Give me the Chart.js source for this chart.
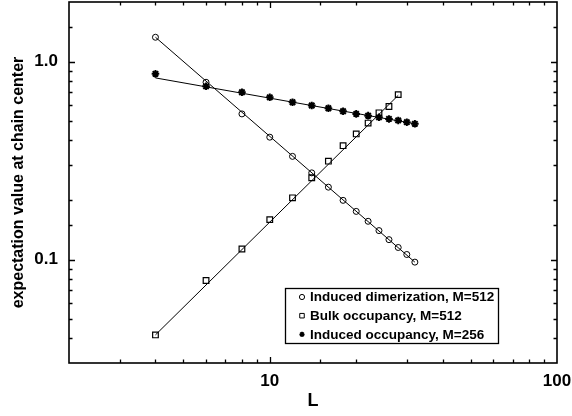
<!DOCTYPE html>
<html>
<head>
<meta charset="utf-8">
<script src="https://cdn.jsdelivr.net/npm/chart.js@4/dist/chart.umd.min.js"></script>
<style>
html,body{margin:0;padding:0;background:#fff;}
#wrap{width:572px;height:416px;position:relative;}
</style>
</head>
<body>
<div id="wrap"><canvas id="c" width="572" height="416"></canvas></div>
<script>
// ---- data ----
const L_dimer = [4, 6, 8, 10, 12, 14, 16, 18, 20, 22, 24, 26, 28, 30, 32];
const dimer   = [1.327, 0.786, 0.544, 0.415, 0.332, 0.274, 0.232, 0.199, 0.175, 0.156, 0.140, 0.126, 0.115, 0.106, 0.097];

const L_bulk = [4, 6, 8, 10, 12, 14, 16, 18, 20, 22, 24, 26, 28];
const bulk   = [0.0416, 0.0783, 0.113, 0.159, 0.205, 0.259, 0.314, 0.376, 0.431, 0.489, 0.551, 0.593, 0.681];

const L_occ = [4, 6, 8, 10, 12, 14, 16, 18, 20, 22, 24, 26, 28, 30, 32];
const occ   = [0.867, 0.75, 0.70, 0.66, 0.623, 0.60, 0.581, 0.561, 0.544, 0.533, 0.523, 0.513, 0.504, 0.494, 0.485];

// fitted power-law lines (end points)
const fitDimerL = [4, 32],  fitDimer = [1.327, 0.097];
const fitBulkL  = [4, 28],  fitBulk  = [0.0416, 0.675];
const fitOccL   = [4, 32],  fitOcc   = [0.827, 0.485];

const seriesLabels = ['Induced dimerization, M=512', 'Bulk occupancy, M=512', 'Induced occupancy, M=256'];
const xTickLabels = [10, 100];
const yTickLabels = [0.1, 1];
const xTitle = 'L';
const yTitle = 'expectation value at chain center';

const pts = (xs, ys) => xs.map((x, i) => ({x: x, y: ys[i]}));
const FONT = "'Liberation Sans', Arial, Helvetica, sans-serif";

const near = (a, b) => Math.abs(a - b) < 1e-6 * Math.max(1, Math.abs(b));

const lineDs = (xs, ys) => ({
  data: pts(xs, ys), showLine: true, borderColor: '#000', borderWidth: 1,
  pointRadius: 0, pointHoverRadius: 0, fill: false, isFit: true
});

// pin the top of the plot frame
const pinTop = {
  id: 'pinTop',
  afterLayout(chart) {
    const T = 2;
    const ys = chart.scales.y, ca = chart.chartArea;
    ys.top = T; ys.height = ys.bottom - T; ys.configure();
    ca.top = T; ca.height = ca.bottom - T;
  }
};

const frameTicks = {
  id: 'frameTicks',
  afterDatasetsDraw(chart) {
    const ctx = chart.ctx, a = chart.chartArea;
    const xs = chart.scales.x, ys = chart.scales.y;
    ctx.save();
    ctx.strokeStyle = '#000';
    ctx.lineWidth = 1.3;
    ctx.beginPath();
    xs.ticks.forEach(t => {
      const v = t.value;
      const major = near(Math.log10(v), Math.round(Math.log10(v)));
      const len = major ? 6 : 3.5;
      const px = Math.round(xs.getPixelForValue(v)) + 0.5;
      if (px < a.left + 1 || px > a.right - 1) return;
      ctx.moveTo(px, a.bottom); ctx.lineTo(px, a.bottom - len);
      ctx.moveTo(px, a.top); ctx.lineTo(px, a.top + len);
    });
    ys.ticks.forEach(t => {
      const v = t.value;
      const major = near(Math.log10(v), Math.round(Math.log10(v)));
      const len = major ? 6 : 3.5;
      const py = Math.round(ys.getPixelForValue(v)) + 0.5;
      if (py < a.top + 1 || py > a.bottom - 1) return;
      ctx.moveTo(a.left, py); ctx.lineTo(a.left + len, py);
      ctx.moveTo(a.right, py); ctx.lineTo(a.right - len, py);
    });
    ctx.stroke();
    ctx.lineWidth = 1.6;
    ctx.strokeRect(a.left, a.top, a.right - a.left, a.bottom - a.top);
    ctx.restore();
  }
};

const boxLegend = {
  id: 'boxLegend',
  afterDraw(chart) {
    const ctx = chart.ctx;
    const x0 = 285, y0 = 288, w = 213, h = 55;
    ctx.save();
    ctx.fillStyle = '#fff';
    ctx.fillRect(x0, y0, w, h);
    ctx.strokeStyle = '#000';
    ctx.lineWidth = 1.3;
    ctx.strokeRect(x0 + 0.5, y0 + 0.5, w, h);
    const items = chart.data.datasets.filter(d => !d.isFit);
    items.forEach((d, i) => {
      const cy = y0 + 9 + i * 18.7;
      ctx.fillStyle = d.pointStyle === 'star' ? '#000' : '#fff';
      ctx.strokeStyle = '#000';
      ctx.lineWidth = d.pointStyle === 'star' ? 1.5 : 1;
      Chart.helpers.drawPoint(ctx, {
        pointStyle: d.pointStyle, radius: d.pointStyle === 'rect' ? 3.2 : 2.6,
        borderWidth: ctx.lineWidth, rotation: 0
      }, 302, cy);
      ctx.fillStyle = '#000';
      ctx.font = 'bold 13.5px ' + FONT;
      ctx.textBaseline = 'middle';
      ctx.textAlign = 'left';
      ctx.fillText(d.label, 310, cy + 0.5);
    });
    ctx.restore();
  }
};

new Chart(document.getElementById('c'), {
  type: 'scatter',
  data: {
    datasets: [
      lineDs(fitDimerL, fitDimer),
      lineDs(fitBulkL, fitBulk),
      lineDs(fitOccL, fitOcc),
      { label: seriesLabels[0], data: pts(L_dimer, dimer), pointStyle: 'circle', pointRadius: 3,
        borderColor: '#000', backgroundColor: 'rgba(0,0,0,0)', borderWidth: 1 },
      { label: seriesLabels[1], data: pts(L_bulk, bulk), pointStyle: 'rect', pointRadius: 4,
        borderColor: '#000', backgroundColor: 'rgba(0,0,0,0)', borderWidth: 1.2 },
      { label: seriesLabels[2], data: pts(L_occ, occ), pointStyle: 'star', pointRadius: 3.8,
        borderColor: '#000', backgroundColor: '#000', borderWidth: 2 }
    ]
  },
  options: {
    responsive: false,
    animation: false,
    devicePixelRatio: 1,
    layout: { padding: { top: 2, right: 15, left: 0, bottom: 0 } },
    plugins: { legend: { display: false }, tooltip: { enabled: false } },
    scales: {
      x: {
        type: 'logarithmic', min: 2, max: 100, position: 'bottom',
        grid: { display: false, drawTicks: false },
        border: { display: false },
        ticks: {
          autoSkip: false, maxRotation: 0, padding: 8, color: '#000',
          font: { family: FONT, size: 17, weight: 'bold' },
          callback: (v) => xTickLabels.some(t => near(v, t)) ? String(Math.round(v)) : ''
        },
        title: { display: true, text: xTitle, color: '#000', padding: { top: 6, bottom: 4 },
          font: { family: FONT, size: 18, weight: 'bold' } },
        afterFit: (s) => { s.height = 53; s.paddingLeft = 0; s.paddingRight = 0; }
      },
      y: {
        type: 'logarithmic', min: 0.03, max: 2, position: 'left',
        grid: { display: false, drawTicks: false },
        border: { display: false },
        ticks: {
          autoSkip: false, padding: 11, color: '#000',
          font: { family: FONT, size: 17, weight: 'bold' },
          callback: (v) => yTickLabels.some(t => near(v, t)) ? (near(v, 1) ? '1.0' : '0.1') : ''
        },
        title: { display: true, text: yTitle, color: '#000', padding: { top: 9, bottom: 0 },
          font: { family: FONT, size: 16, weight: 'bold' } },
        afterFit: (s) => { s.width = 69; s.paddingTop = 0; s.paddingBottom = 0; }
      }
    }
  },
  plugins: [pinTop, frameTicks, boxLegend]
});
</script>
</body>
</html>
